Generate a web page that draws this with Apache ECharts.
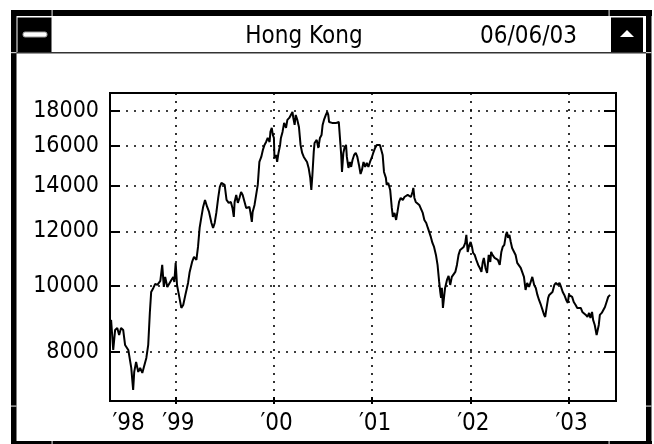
<!DOCTYPE html>
<html><head><meta charset="utf-8">
<script src="https://cdn.jsdelivr.net/npm/echarts@6/dist/echarts.min.js"></script>
<style>html,body{margin:0;padding:0;background:#fff;} #chart{width:654px;height:444px;}</style>
</head><body><div id="chart"></div>
<script>
const titleText = 'Hong Kong';
const dateText = '06/06/03';
const yTicks = [8000, 10000, 12000, 14000, 16000, 18000];
const yearTicks = ['1999-01-01', '2000-01-01', '2001-01-01', '2002-01-01', '2003-01-01'];
const yearLabelDates = ['1998-06-30', '1999-01-01', '2000-01-01', '2001-01-01', '2002-01-01', '2003-01-01'];
const axisStart = '1998-05-03';
const axisEnd = '2003-06-26';
const yMin = 6784, yMax = 19119;

const dates = [
'1998-05-07','1998-05-15','1998-05-22','1998-05-30','1998-06-06','1998-06-13','1998-06-21','1998-06-28','1998-07-10','1998-07-21',
'1998-07-28','1998-08-01','1998-08-08','1998-08-16','1998-08-23','1998-08-31','1998-09-07','1998-09-15','1998-09-22','1998-09-28',
'1998-10-03','1998-10-11','1998-10-18','1998-10-26','1998-11-06','1998-11-13','1998-11-19','1998-11-24','1998-12-02','1998-12-09',
'1998-12-17','1998-12-24','1998-12-28',
'1999-01-02','1999-01-07','1999-01-14','1999-01-23','1999-01-30','1999-02-07','1999-02-17','1999-02-23','1999-03-04','1999-03-11',
'1999-03-20','1999-03-26','1999-04-01','1999-04-07','1999-04-14','1999-04-21','1999-04-29','1999-05-06','1999-05-15','1999-05-21',
'1999-05-27','1999-06-02','1999-06-09','1999-06-15','1999-06-21','1999-06-27','1999-07-03','1999-07-10','1999-07-18','1999-07-26',
'1999-08-01','1999-08-06','1999-08-09','1999-08-15','1999-08-21','1999-08-27','1999-09-02','1999-09-08','1999-09-15','1999-09-21',
'1999-09-27','1999-10-03','1999-10-07','1999-10-12','1999-10-15','1999-10-22','1999-10-28','1999-11-03','1999-11-09','1999-11-16',
'1999-11-22','1999-11-28','1999-12-04','1999-12-10','1999-12-17','1999-12-20','1999-12-25','1999-12-29',
'2000-01-02','2000-01-04','2000-01-10','2000-01-14','2000-01-19','2000-01-25','2000-01-28','2000-02-03','2000-02-09','2000-02-16',
'2000-02-21','2000-02-28','2000-03-05','2000-03-11','2000-03-14','2000-03-19','2000-03-23','2000-03-29','2000-04-04','2000-04-10',
'2000-04-16','2000-04-22','2000-04-28','2000-05-04','2000-05-10','2000-05-16','2000-05-20','2000-05-24','2000-05-29','2000-06-01',
'2000-06-05','2000-06-09','2000-06-15','2000-06-21','2000-06-27','2000-07-01','2000-07-06','2000-07-13','2000-07-18','2000-07-22',
'2000-07-25','2000-07-30','2000-08-05','2000-08-11','2000-08-21','2000-08-30','2000-09-04','2000-09-08','2000-09-11','2000-09-16',
'2000-09-21','2000-09-26','2000-09-29','2000-10-05','2000-10-10','2000-10-15','2000-10-20','2000-10-26','2000-11-01','2000-11-07',
'2000-11-13','2000-11-19','2000-11-24','2000-11-30','2000-12-06','2000-12-12','2000-12-18','2000-12-24','2000-12-30',
'2001-01-05','2001-01-12','2001-01-18','2001-01-24','2001-01-30','2001-02-06','2001-02-09','2001-02-14','2001-02-21','2001-02-24',
'2001-03-02','2001-03-09','2001-03-15','2001-03-19','2001-03-25','2001-03-31','2001-04-05','2001-04-11','2001-04-17','2001-04-25',
'2001-05-01','2001-05-07','2001-05-13','2001-05-19','2001-05-25','2001-05-31','2001-06-03','2001-06-07','2001-06-12','2001-06-18',
'2001-06-25','2001-07-02','2001-07-08','2001-07-14','2001-07-21','2001-07-27','2001-08-01','2001-08-07','2001-08-13','2001-08-19',
'2001-08-26','2001-09-01','2001-09-07','2001-09-11','2001-09-14','2001-09-17','2001-09-21','2001-09-26','2001-09-29','2001-10-06',
'2001-10-12','2001-10-18','2001-10-24','2001-10-30','2001-11-06','2001-11-12','2001-11-18','2001-11-24','2001-12-01','2001-12-07',
'2001-12-13','2001-12-17','2001-12-22','2001-12-28',
'2002-01-02','2002-01-07','2002-01-11','2002-01-17','2002-01-23','2002-01-30','2002-02-05','2002-02-11','2002-02-16','2002-02-20',
'2002-02-26','2002-03-04','2002-03-10','2002-03-16','2002-03-19','2002-03-24','2002-04-01','2002-04-06','2002-04-13','2002-04-20',
'2002-04-26','2002-05-01','2002-05-07','2002-05-13','2002-05-17','2002-05-21','2002-05-26','2002-05-31','2002-06-05','2002-06-11',
'2002-06-18','2002-06-24','2002-06-30','2002-07-07','2002-07-13','2002-07-19','2002-07-25','2002-07-31','2002-08-07','2002-08-13',
'2002-08-19','2002-08-26','2002-09-01','2002-09-07','2002-09-13','2002-09-20','2002-09-26','2002-10-02','2002-10-06','2002-10-11',
'2002-10-17','2002-10-21','2002-10-27','2002-11-02','2002-11-09','2002-11-15','2002-11-21','2002-11-28','2002-12-04','2002-12-10',
'2002-12-16','2002-12-23','2002-12-29',
'2003-01-02','2003-01-08','2003-01-14','2003-01-20','2003-01-27','2003-02-02','2003-02-08','2003-02-15','2003-02-21','2003-02-27',
'2003-03-06','2003-03-12','2003-03-18','2003-03-23','2003-03-29','2003-04-02','2003-04-08','2003-04-15','2003-04-19','2003-04-23',
'2003-04-27','2003-05-04','2003-05-10','2003-05-16','2003-05-22','2003-05-28','2003-06-04'
];
const closes = [
8911,8055,8616,8674,8472,8674,8616,8192,8055,7582,
7041,7481,7737,7481,7582,7456,7481,7842,8192,9124,
9791,9924,10058,10024,10160,10722,9957,10298,9957,10024,
10194,10298,10126,
10795,10024,9693,9278,9372,9693,10092,10472,10831,11014,
10904,11391,12143,12558,13032,13342,13032,12815,12349,12143,
12349,12772,13431,13939,14128,14176,14033,13342,13209,13253,
12988,12600,13253,13569,13209,13431,13706,13569,13253,12988,
12901,13032,12772,12391,12815,13120,13569,14033,15162,15419,
15787,16054,16216,16437,16216,16772,16999,16604,
16437,15367,15523,15162,15628,16054,16437,16772,17288,16999,
17463,17581,17759,17940,17581,17172,17759,17463,17056,16054,
15628,15419,15419,15162,14859,14368,13799,14513,15681,16160,
16054,16327,15893,16437,16604,17172,17463,17759,17940,17759,
17346,17463,17288,17346,17288,17346,17288,15523,14660,15628,
15946,16054,15419,14859,15162,14909,15264,15523,15628,15419,
15010,14561,14759,15162,14909,15111,14909,15162,15367,
15628,15893,16054,16054,16054,16054,15523,14660,14368,14033,
14128,13799,12988,12600,12772,12474,12815,13253,13431,13342,
13476,13431,13569,13660,13476,13706,13892,13431,13253,13209,
13120,13120,12772,12474,12349,12143,12062,11781,11546,11391,
11089,10722,10126,9791,9596,9924,9278,9693,9924,10194,
10332,10024,10298,10367,10472,10722,11089,11277,11353,11391,
11546,11860,11202,11468,
11584,11391,11164,11089,10904,10722,10614,10472,10831,10978,
10614,10437,11089,10831,11202,11089,10978,11014,10904,10722,
11202,11391,11468,11860,11980,11742,11860,11584,11353,11277,
11089,10795,10795,10614,10650,10298,9857,10092,9957,10126,
10298,10024,9924,9693,9531,9372,9216,9062,9001,9278,
9596,9693,9758,9791,10024,10092,10024,10092,9957,9791,
9693,9531,9435,
9693,9758,9628,9467,9372,9278,9216,9278,9155,9216,
9062,9001,9124,8971,9155,8911,8762,8472,8416,8762,
9062,9124,9216,9309,9467,9628,9693
];

const FONT = "'Liberation Sans Narrow', 'DejaVu Sans Condensed', 'Liberation Sans', sans-serif";
const T = s => { const p = s.split('-').map(Number); return Date.UTC(p[0], p[1] - 1, p[2]); };
const seriesData = dates.map((d, i) => [T(d), closes[i]]);
const dotted = { color: '#000', width: 1.6, type: [2, 6] };

const chart = echarts.init(document.getElementById('chart'), null, { renderer: 'canvas' });

const black = (x, y, w, h, fill) => ({ type: 'rect', silent: true, shape: { x, y, width: w, height: h }, style: { fill: fill || '#000' } });

const option = {
  animation: false,
  backgroundColor: '#fff',
  grid: { left: 110, top: 93, width: 506, height: 308, show: true, borderColor: '#000', borderWidth: 2, backgroundColor: 'transparent' },
  xAxis: [{
    type: 'value', min: T(axisStart), max: T(axisEnd),
    axisLine: { show: false },
    axisTick: { show: true, inside: true, length: 4, lineStyle: { color: '#000', width: 2 }, customValues: yearTicks.map(T) },
    axisLabel: {
      customValues: yearLabelDates.map(T), margin: 11, color: '#000', fontSize: 24, fontFamily: FONT, padding: [0, 0, 0, 6],
      formatter: v => '\u2032' + String(new Date(v).getUTCFullYear()).slice(2)
    },
    splitLine: { show: true, lineStyle: dotted }
  }, {
    type: 'value', min: T(axisStart), max: T(axisEnd), position: 'bottom',
    axisLine: { show: false },
    axisTick: { show: true, inside: false, length: 3, lineStyle: { color: '#000', width: 2 }, customValues: yearTicks.map(T) },
    axisLabel: { show: false },
    splitLine: { show: false }
  }],
  yAxis: [{
    type: 'log', min: yMin, max: yMax, position: 'left',
    axisLine: { show: false },
    axisTick: { show: true, inside: true, length: 10, lineStyle: { color: '#000', width: 2 }, customValues: yTicks },
    axisLabel: { customValues: yTicks, margin: 11, color: '#000', fontSize: 23, fontFamily: FONT, formatter: v => String(Math.round(v)) },
    splitLine: { show: true, lineStyle: dotted }
  }, {
    type: 'log', min: yMin, max: yMax, position: 'right',
    axisLine: { show: false },
    axisTick: { show: true, inside: true, length: 12, lineStyle: { color: '#000', width: 2 }, customValues: yTicks },
    axisLabel: { show: false },
    splitLine: { show: false }
  }],
  series: [{
    type: 'line', data: seriesData, showSymbol: false, symbol: 'none',
    lineStyle: { color: '#000', width: 2 }, xAxisIndex: 0, yAxisIndex: 0
  }],
  graphic: [
    black(11, 10, 641, 6),
    black(11, 10, 5.5, 434),
    black(646, 10, 5.5, 434),
    black(11, 441, 641, 3),
    black(16, 52, 630, 1.5, '#333'),
    black(17.5, 17.5, 34, 34.5),
    { type: 'rect', silent: true, shape: { x: 23, y: 32, width: 24, height: 5, r: 2 }, style: { fill: '#fff', stroke: '#999', lineWidth: 1 } },
    black(611, 17.5, 32, 34.5),
    { type: 'polygon', silent: true, shape: { points: [[620, 37], [634, 37], [627, 30]] }, style: { fill: '#fff' } },
    black(51.5, 10, 1.2, 6, '#c8c8c8'), black(608.5, 10, 1.2, 6, '#c8c8c8'),
    black(51.5, 441, 1.2, 3, '#c8c8c8'), black(608.5, 441, 1.2, 3, '#c8c8c8'),
    black(11, 52, 5.5, 1.2, '#c8c8c8'), black(11, 405.5, 5.5, 1.2, '#c8c8c8'),
    black(646, 52, 5.5, 1.2, '#c8c8c8'), black(646, 405.5, 5.5, 1.2, '#c8c8c8'),
    { type: 'text', silent: true, x: 304, y: 37, style: { text: titleText, font: '24px ' + FONT, fill: '#000', align: 'center', verticalAlign: 'middle', textAlign: 'center', textVerticalAlign: 'middle' } },
    { type: 'text', silent: true, x: 577, y: 37, style: { text: dateText, font: '24px ' + FONT, fill: '#000', align: 'right', verticalAlign: 'middle', textAlign: 'right', textVerticalAlign: 'middle' } }
  ]
};
chart.setOption(option);
</script>
</body></html>
